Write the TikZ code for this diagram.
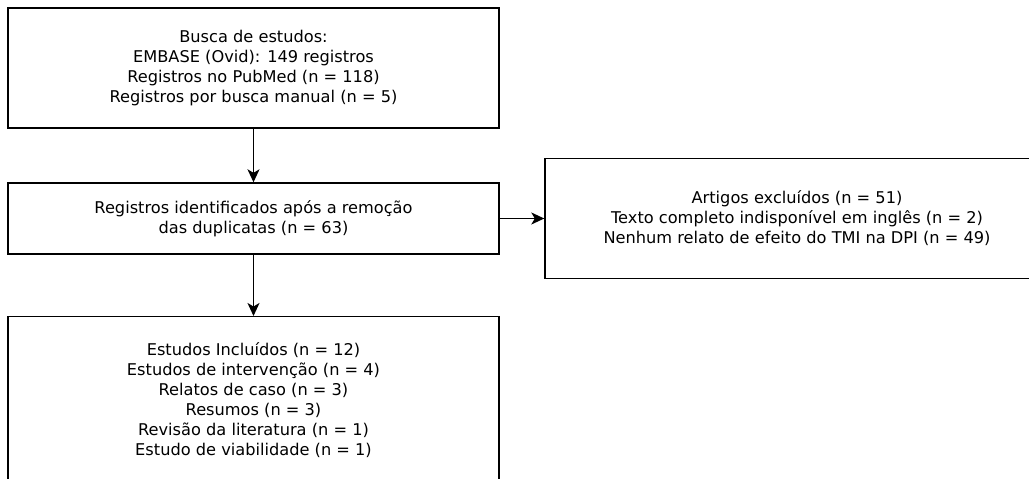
\documentclass[tikz,border=0pt]{standalone}
\usepackage{fontspec}
\setmainfont{DejaVu Sans}
\usetikzlibrary{arrows.meta}
\begin{document}
\begin{tikzpicture}[x=1pt,y=-1pt,
  box/.style={draw=black, line width=1.4pt, align=center, inner sep=0pt,
    font=\fontsize{16.2}{20}\selectfont},
  arr/.style={line width=1.4pt, -{Stealth[length=13pt,width=12pt,inset=3.5pt]}}]
\useasboundingbox (0,0) rectangle (1029,479);
\node[box, minimum width=491pt, minimum height=120pt] (b1) at (253.5,68)
  {Busca de estudos:\\EMBASE (Ovid): 149 registros\\Registros no PubMed (n = 118)\\Registros por busca manual (n = 5)};
\node[box, minimum width=491pt, minimum height=71pt] (b2) at (253.5,218.5)
  {Registros identificados após a remoção\\das duplicatas (n = 63)};
\node[box, minimum width=504pt, minimum height=120pt] (b3) at (797,218.5)
  {Artigos excluídos (n = 51)\\Texto completo indisponível em inglês (n = 2)\\Nenhum relato de efeito do TMI na DPI (n = 49)};
\node[box, minimum width=491pt, minimum height=166pt, anchor=north] (b4) at (253.5,316)
  {Estudos Incluídos (n = 12)\\Estudos de intervenção (n = 4)\\Relatos de caso (n = 3)\\Resumos (n = 3)\\Revisão da literatura (n = 1)\\Estudo de viabilidade (n = 1)};
\draw[arr] (b1) -- (b2);
\draw[arr] (b2) -- (b4);
\draw[arr] (b2.east) -- (b3.west);
\end{tikzpicture}
\end{document}
